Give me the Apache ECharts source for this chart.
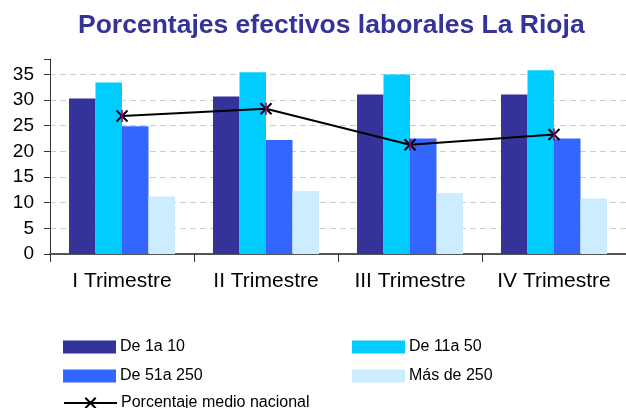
<!DOCTYPE html>
<html>
<head>
<meta charset="utf-8">
<script src="https://cdn.jsdelivr.net/npm/echarts@6/dist/echarts.min.js"></script>
<style>
  html, body { margin: 0; padding: 0; background: #fff; }
  #chart { width: 626px; height: 408px; }
</style>
</head>
<body>
<div id="chart"></div>
<script>
'use strict';

var categories = ['I Trimestre', 'II Trimestre', 'III Trimestre', 'IV Trimestre'];
var de1a10 = [30.3, 30.7, 31.1, 31.1];
var de11a50 = [33.4, 35.4, 35.0, 35.8];
var de51a250 = [24.9, 22.2, 22.5, 22.5];
var masDe250 = [11.2, 12.3, 11.9, 10.8];
var medioNacional = [26.9, 28.3, 21.3, 23.3];

var FONT = 'Liberation Sans, Arial, sans-serif';
var X_MARK = 'path://M0,0L10,10M10,0L0,10';

var chart = echarts.init(document.getElementById('chart'));

// una leyenda por hueco para colocarlas como en el original
function legendAt(name, left, top) {
    return {
        data: [name],
        left: left,
        top: top,
        icon: name === 'Porcentaje medio nacional' ? null : 'rect',
        itemWidth: 53,
        itemHeight: 13,
        itemGap: 0,
        padding: 0,
        selectedMode: false,
        textStyle: { fontFamily: FONT, fontSize: 16, color: '#000', padding: [0, 0, 0, -1] }
    };
}

function barSeries(name, data, color) {
    return {
        name: name,
        type: 'bar',
        data: data,
        barWidth: 26.5,
        barGap: '0%',
        itemStyle: { color: color },
        emphasis: { disabled: true }
    };
}

var option = {
    animation: false,
    title: {
        text: 'Porcentajes efectivos laborales La Rioja',
        left: 78,
        top: 12,
        padding: 0,
        textStyle: { fontFamily: FONT, fontSize: 26.5, fontWeight: 'bold', color: '#333399' }
    },
    legend: [
        legendAt('De 1a 10', 63, 339),
        legendAt('De 11a 50', 352, 339),
        legendAt('De 51a 250', 63, 368),
        legendAt('Más de 250', 352, 368),
        legendAt('Porcentaje medio nacional', 63, 395)
    ],
    grid: {
        left: 50,
        top: 59,
        width: 580,
        height: 195,
        containLabel: false
    },
    xAxis: {
        type: 'category',
        data: categories,
        axisLine: { lineStyle: { color: '#555', width: 2 } },
        axisTick: { show: true, interval: 0, length: 8, lineStyle: { color: '#333' } },
        axisLabel: { interval: 0, fontFamily: FONT, fontSize: 21, color: '#000', margin: 17 }
    },
    yAxis: {
        type: 'value',
        min: 0,
        max: 38,
        interval: 5,
        axisLine: { show: true, lineStyle: { color: '#333' } },
        axisTick: { show: true, length: 6, lineStyle: { color: '#333' } },
        axisLabel: {
            fontFamily: FONT, fontSize: 19, color: '#000', margin: 16,
            formatter: function (v) { return v % 5 === 0 ? v : ''; }
        },
        splitLine: { showMaxLine: false, lineStyle: { color: '#ccc', type: [6, 4] } }
    },
    series: [
        barSeries('De 1a 10', de1a10, '#333399'),
        barSeries('De 11a 50', de11a50, '#00CCFF'),
        barSeries('De 51a 250', de51a250, '#3366FF'),
        barSeries('Más de 250', masDe250, '#CCECFF'),
        {
            // trazo vertical morado del marcador estrella
            name: 'marcador',
            type: 'scatter',
            data: medioNacional,
            symbol: 'rect',
            symbolSize: [2, 12],
            itemStyle: { color: '#990099' },
            emphasis: { disabled: true },
            silent: true,
            z: 11
        },
        {
            name: 'Porcentaje medio nacional',
            type: 'line',
            data: medioNacional,
            symbol: X_MARK,
            symbolSize: 11,
            lineStyle: { color: '#000', width: 2 },
            itemStyle: { color: '#000', borderColor: '#000', borderWidth: 2 },
            emphasis: { disabled: true },
            z: 10
        }
    ]
};

chart.setOption(option);
</script>
</body>
</html>
